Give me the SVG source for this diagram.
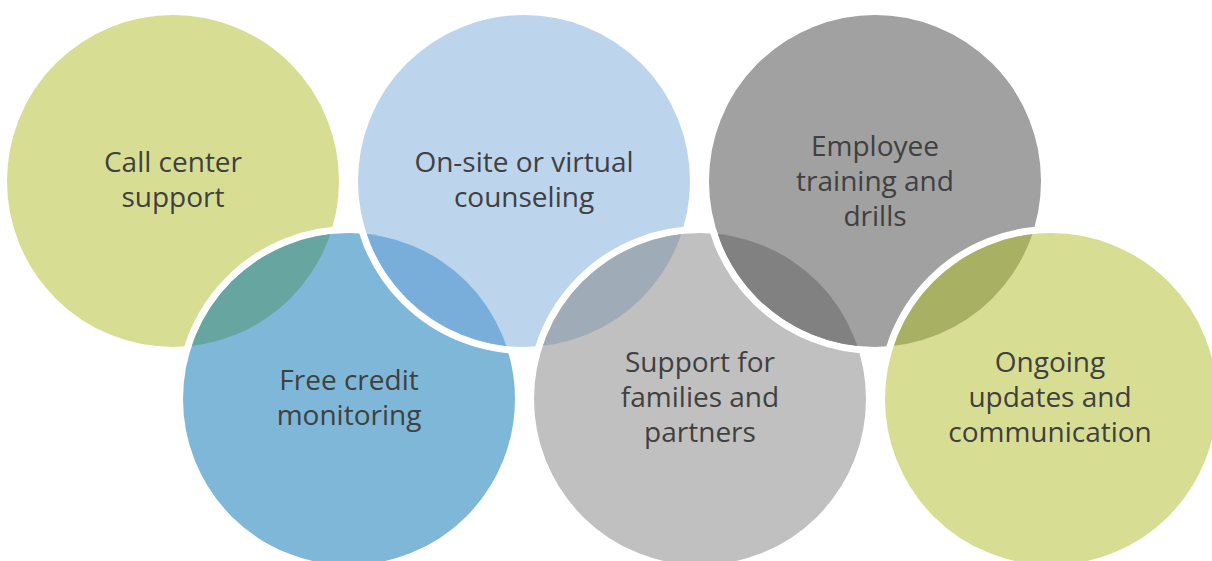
<svg xmlns="http://www.w3.org/2000/svg" width="1212" height="561" viewBox="0 0 1212 561">
  <style>
    .ring { stroke: #ffffff; stroke-width: 7; }
    .label { font-family: "Open Sans", "Noto Sans", "Liberation Sans", sans-serif; font-size: 28px; fill: #404040; text-anchor: middle; }
  </style>
  <defs>
    <!-- inner (filled) discs used to cut the overlap lenses -->
    <clipPath id="inBL"><circle cx="349" cy="399" r="166"/></clipPath>
    <clipPath id="inTM"><circle cx="524" cy="181" r="166"/></clipPath>
    <clipPath id="inBM"><circle cx="700" cy="399" r="166"/></clipPath>
    <clipPath id="inTR"><circle cx="875" cy="181" r="166"/></clipPath>
    <clipPath id="inBR"><circle cx="1051" cy="399" r="166"/></clipPath>
  </defs>
  <rect width="1212" height="561" fill="#ffffff"/>

  <g id="node-call-center">
    <circle class="ring" cx="173" cy="181" r="169.5" fill="#D7DE94"/>
  </g>

  <g id="node-credit-monitoring">
    <circle class="ring" cx="349" cy="399" r="169.5" fill="#7FB7D9"/>
    <circle cx="173" cy="181" r="166" fill="#67A6A0" clip-path="url(#inBL)"/>
  </g>

  <g id="node-counseling">
    <circle class="ring" cx="524" cy="181" r="169.5" fill="#BDD5EC"/>
    <circle cx="349" cy="399" r="166" fill="#7AAEDA" clip-path="url(#inTM)"/>
  </g>

  <g id="node-families">
    <circle class="ring" cx="700" cy="399" r="169.5" fill="#C0C0C0"/>
    <circle cx="524" cy="181" r="166" fill="#9FABB7" clip-path="url(#inBM)"/>
  </g>

  <g id="node-training">
    <circle class="ring" cx="875" cy="181" r="169.5" fill="#A1A1A1"/>
    <circle cx="700" cy="399" r="166" fill="#818181" clip-path="url(#inTR)"/>
  </g>

  <g id="node-updates">
    <circle class="ring" cx="1051" cy="399" r="169.5" fill="#D7DE94"/>
    <circle cx="875" cy="181" r="166" fill="#A8B063" clip-path="url(#inBR)"/>
  </g>

  <g id="labels">
    <text class="label" x="173" y="172">Call center</text>
    <text class="label" x="173" y="207">support</text>

    <text class="label" x="524" y="172">On-site or virtual</text>
    <text class="label" x="524" y="207">counseling</text>

    <text class="label" x="875" y="156">Employee</text>
    <text class="label" x="875" y="191">training and</text>
    <text class="label" x="875" y="226">drills</text>

    <text class="label" x="349" y="390">Free credit</text>
    <text class="label" x="349" y="425">monitoring</text>

    <text class="label" x="700" y="372">Support for</text>
    <text class="label" x="700" y="407">families and</text>
    <text class="label" x="700" y="442">partners</text>

    <text class="label" x="1050" y="372">Ongoing</text>
    <text class="label" x="1050" y="407">updates and</text>
    <text class="label" x="1050" y="442">communication</text>
  </g>
</svg>
